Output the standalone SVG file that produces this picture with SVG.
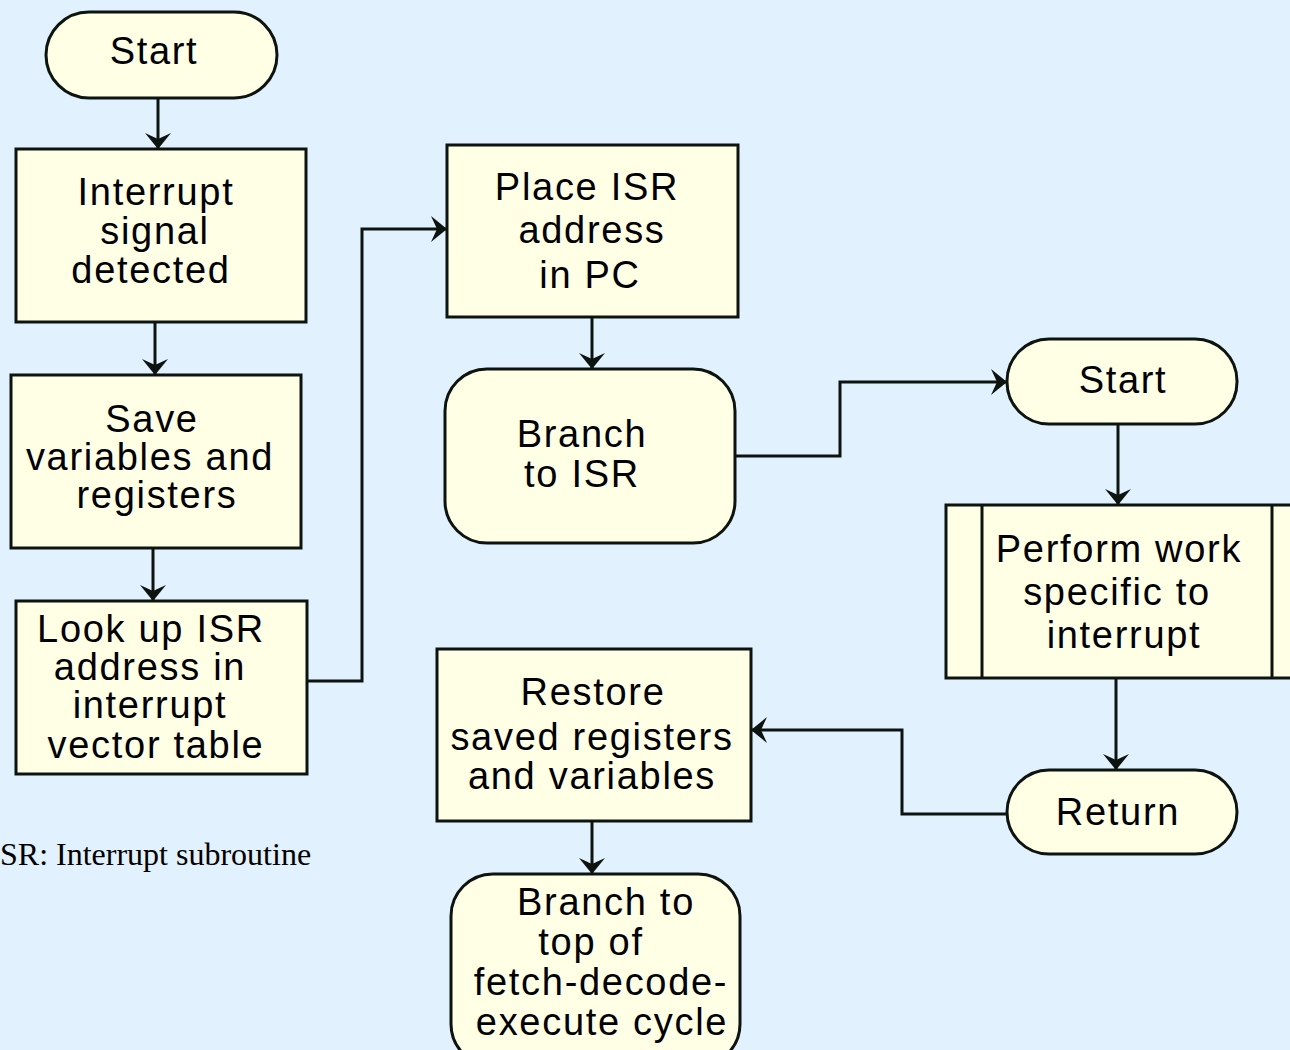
<svg xmlns="http://www.w3.org/2000/svg" width="1290" height="1050" viewBox="0 0 1290 1050">
<style>
.n{fill:#FFFFE6;stroke:#0d1410;stroke-width:3}
.t{font-family:"Liberation Sans",Arial,sans-serif;font-size:38px;letter-spacing:1.7px;fill:#000;text-anchor:middle}
.c{fill:none;stroke:#0d1410;stroke-width:3;marker-end:url(#ah)}
.cap{font-family:"Liberation Serif","Times New Roman",serif;font-size:32px;fill:#000}
</style>
<defs>
<marker id="ah" markerUnits="userSpaceOnUse" orient="auto" markerWidth="20" markerHeight="26" refX="0" refY="0" style="overflow:visible">
<path d="M-16,-13 L0,0 L-16,13 L-10,0 z" fill="#0d1410"/>
</marker>
</defs>
<rect x="0" y="0" width="1290" height="1050" fill="#E1F1FE"/>

<g id="start1">
<rect class="n" x="46" y="12" width="231" height="86" rx="43"/>
<text class="t" x="154" y="64">Start</text>
</g>
<g id="detect">
<rect class="n" x="16" y="149" width="290" height="173"/>
<text class="t" x="156" y="205">Interrupt</text>
<text class="t" x="155" y="244">signal</text>
<text class="t" x="151" y="283">detected</text>
</g>
<g id="save">
<rect class="n" x="11" y="375" width="290" height="173"/>
<text class="t" x="152" y="432">Save</text>
<text class="t" x="150" y="470">variables and</text>
<text class="t" x="157" y="508">registers</text>
</g>
<g id="lookup">
<rect class="n" x="16" y="601" width="291" height="173"/>
<text class="t" x="151" y="642">Look up ISR</text>
<text class="t" x="150" y="680">address in</text>
<text class="t" x="150" y="718">interrupt</text>
<text class="t" x="156" y="758">vector table</text>
</g>
<g id="place">
<rect class="n" x="447" y="145" width="291" height="172"/>
<text class="t" x="587" y="200">Place ISR</text>
<text class="t" x="592" y="243">address</text>
<text class="t" x="590" y="288">in PC</text>
</g>
<g id="branchisr">
<rect class="n" x="445" y="369" width="290" height="174" rx="42"/>
<text class="t" x="582" y="447">Branch</text>
<text class="t" x="582" y="487">to ISR</text>
</g>
<g id="start2">
<rect class="n" x="1007" y="339" width="230" height="85" rx="42"/>
<text class="t" x="1123" y="393">Start</text>
</g>
<g id="perform">
<rect class="n" x="946" y="505" width="346" height="173"/>
<line x1="982" y1="505" x2="982" y2="678" stroke="#0d1410" stroke-width="3"/>
<line x1="1272" y1="505" x2="1272" y2="678" stroke="#0d1410" stroke-width="3"/>
<text class="t" x="1119" y="562">Perform work</text>
<text class="t" x="1117" y="605">specific to</text>
<text class="t" x="1124" y="648">interrupt</text>
</g>
<g id="return">
<rect class="n" x="1007" y="770" width="230" height="84" rx="42"/>
<text class="t" x="1118" y="825">Return</text>
</g>
<g id="restore">
<rect class="n" x="437" y="649" width="314" height="172"/>
<text class="t" x="593" y="705">Restore</text>
<text class="t" x="592" y="750">saved registers</text>
<text class="t" x="592" y="789">and variables</text>
</g>
<g id="branchtop">
<rect class="n" x="451" y="874" width="289" height="192" rx="42"/>
<text class="t" x="606" y="915">Branch to</text>
<text class="t" x="591" y="955">top of</text>
<text class="t" x="601" y="995">fetch-decode-</text>
<text class="t" x="602" y="1035">execute cycle</text>
</g>

<g id="connectors">
<path class="c" d="M158,98 V149"/>
<path class="c" d="M155,322 V375"/>
<path class="c" d="M153,548 V601"/>
<path class="c" d="M307,681 H362 V229 H447"/>
<path class="c" d="M592,317 V369"/>
<path class="c" d="M735,456 H840 V382 H1007"/>
<path class="c" d="M1118,424 V505"/>
<path class="c" d="M1116,678 V770"/>
<path class="c" d="M1007,814 H902 V730 H751"/>
<path class="c" d="M592,821 V874"/>
</g>

<text class="cap" x="0" y="865">SR: Interrupt subroutine</text>
</svg>
